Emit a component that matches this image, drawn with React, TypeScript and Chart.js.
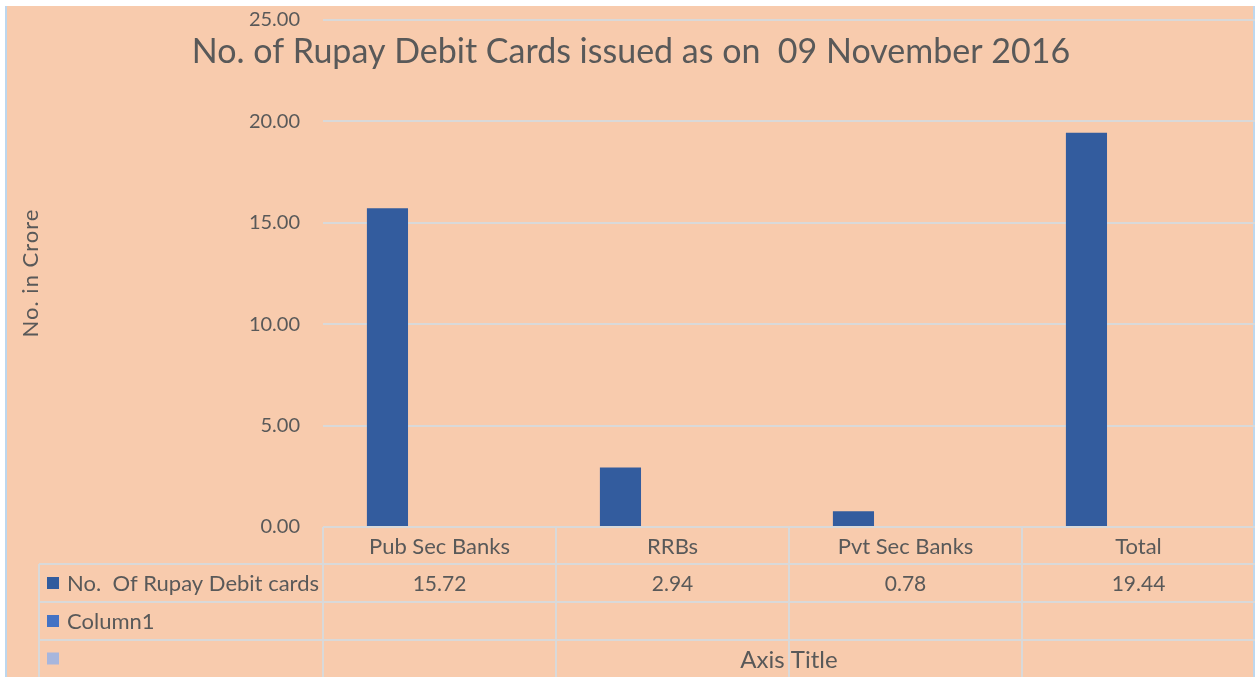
import React, { useEffect, useRef } from "react";
import { Chart, registerables } from "chart.js";

Chart.register(...registerables);

const chartTitle = "No. of Rupay Debit Cards issued as on  09 November 2016";
const categories = ["Pub Sec Banks", "RRBs", "Pvt Sec Banks", "Total"];
const rupayCards = [15.72, 2.94, 0.78, 19.44];
const column1: (number | null)[] = [null, null, null, null];
const series3: (number | null)[] = [null, null, null, null];
const seriesNames = ["No.  Of Rupay Debit cards", "Column1", ""];
const seriesColors = ["#335C9E", "#4472C4", "#A7B6DD"];
const valueLabels = ["15.72", "2.94", "0.78", "19.44"];
const yAxisTitle = "No. in Crore";
const xAxisTitle = "Axis Title";
const yMin = 0;
const yMax = 25;
const yStep = 5;

const FONT = "Lato, 'Open Sans', sans-serif";
const TEXT = "#595959";
const GRID = "#D9D9D9";

const decorPlugin = {
  id: "decor",
  beforeDraw(chart: any) {
    const ctx = chart.ctx;
    const W = chart.width;
    const H = chart.height;
    ctx.save();
    ctx.fillStyle = "#FFFFFF";
    ctx.fillRect(0, 0, W, H);
    ctx.fillStyle = "#F8CBAD";
    ctx.fillRect(6, 6, W - 6, H - 6);
    ctx.fillStyle = "#BDD7EE";
    ctx.fillRect(5, 6, 2, H - 6);
    ctx.fillRect(W - 2, 6, 2, H - 6);
    ctx.restore();
  },
  afterDraw(chart: any) {
    const ctx = chart.ctx;
    const xs = chart.scales.x;
    const area = chart.chartArea;
    const n = categories.length;
    const cw = (area.right - area.left) / n;
    const top = area.bottom;
    const rows = [top, top + 37, top + 75, top + 113, chart.height];
    ctx.save();
    ctx.strokeStyle = GRID;
    ctx.lineWidth = 2;
    ctx.beginPath();
    for (let r = 1; r < rows.length - 1; r++) {
      ctx.moveTo(39, rows[r]);
      ctx.lineTo(area.right, rows[r]);
    }
    ctx.moveTo(39, rows[1]);
    ctx.lineTo(39, chart.height);
    for (let i = 0; i < n; i++) {
      const x = area.left + i * cw;
      ctx.moveTo(x, top);
      ctx.lineTo(x, chart.height);
    }
    ctx.stroke();

    ctx.fillStyle = TEXT;
    ctx.textBaseline = "middle";
    ctx.textAlign = "center";
    categories.forEach((c, i) => {
      const cx = xs.getPixelForValue(i);
      ctx.font = `22px ${FONT}`;
      ctx.fillText(c, cx, (rows[0] + rows[1]) / 2 + 1);
      ctx.font = `21px ${FONT}`;
      ctx.fillText(valueLabels[i], cx, (rows[1] + rows[2]) / 2 + 1);
    });
    ctx.font = `22px ${FONT}`;
    ctx.textAlign = "left";
    seriesNames.forEach((s, r) => {
      const cy = (rows[r + 1] + rows[r + 2]) / 2;
      ctx.fillStyle = seriesColors[r];
      ctx.fillRect(47, cy - 6, 12, 12);
      ctx.fillStyle = TEXT;
      ctx.fillText(s, 67, cy + 1);
    });
    ctx.textAlign = "center";
    ctx.font = `24px ${FONT}`;
    ctx.fillText(xAxisTitle, (area.left + area.right) / 2, (rows[3] + rows[4]) / 2 + 2);
    ctx.font = `34px ${FONT}`;
    ctx.textBaseline = "alphabetic";
    ctx.fillText(chartTitle, 631, 63, 880);
    ctx.translate(31, 273);
    ctx.rotate(-Math.PI / 2);
    ctx.font = `22px ${FONT}`;
    (ctx as any).letterSpacing = "1px";
    ctx.textBaseline = "middle";
    ctx.fillText(yAxisTitle, 0, 0);
    ctx.restore();
  },
};

export default function App() {
  const ref = useRef<HTMLCanvasElement | null>(null);
  useEffect(() => {
    if (!ref.current) return;
    const chart = new Chart(ref.current, {
      type: "bar",
      data: {
        labels: categories,
        datasets: [
          { label: seriesNames[0], data: rupayCards, backgroundColor: seriesColors[0] },
          { label: seriesNames[1], data: column1, backgroundColor: seriesColors[1] },
          { label: seriesNames[2], data: series3, backgroundColor: seriesColors[2] },
        ],
      },
      options: {
        animation: false,
        responsive: false,
        maintainAspectRatio: false,
        datasets: { bar: { categoryPercentage: 0.67, barPercentage: 0.79 } },
        layout: { padding: { top: 20, bottom: 150, left: 0, right: 0 } },
        plugins: { legend: { display: false }, tooltip: { enabled: false }, title: { display: false } },
        scales: {
          x: { display: false },
          y: {
            min: yMin,
            max: yMax,
            border: { display: false },
            grid: { color: GRID, lineWidth: 2, drawTicks: true, tickLength: 23, tickColor: "rgba(0,0,0,0)" },
            ticks: {
              stepSize: yStep,
              padding: 0,
              color: TEXT,
              font: { family: FONT, size: 20 },
              callback: (v: any) => Number(v).toFixed(2),
            },
            afterFit: (scale: any) => {
              scale.width = 323;
            },
          },
        },
      },
      plugins: [decorPlugin],
    });
    return () => chart.destroy();
  }, []);
  return (
    <div style={{ position: "fixed", left: 0, top: 0, width: 1255, height: 677 }}>
      <canvas ref={ref} width={1255} height={677} style={{ width: 1255, height: 677, display: "block" }} />
    </div>
  );
}
